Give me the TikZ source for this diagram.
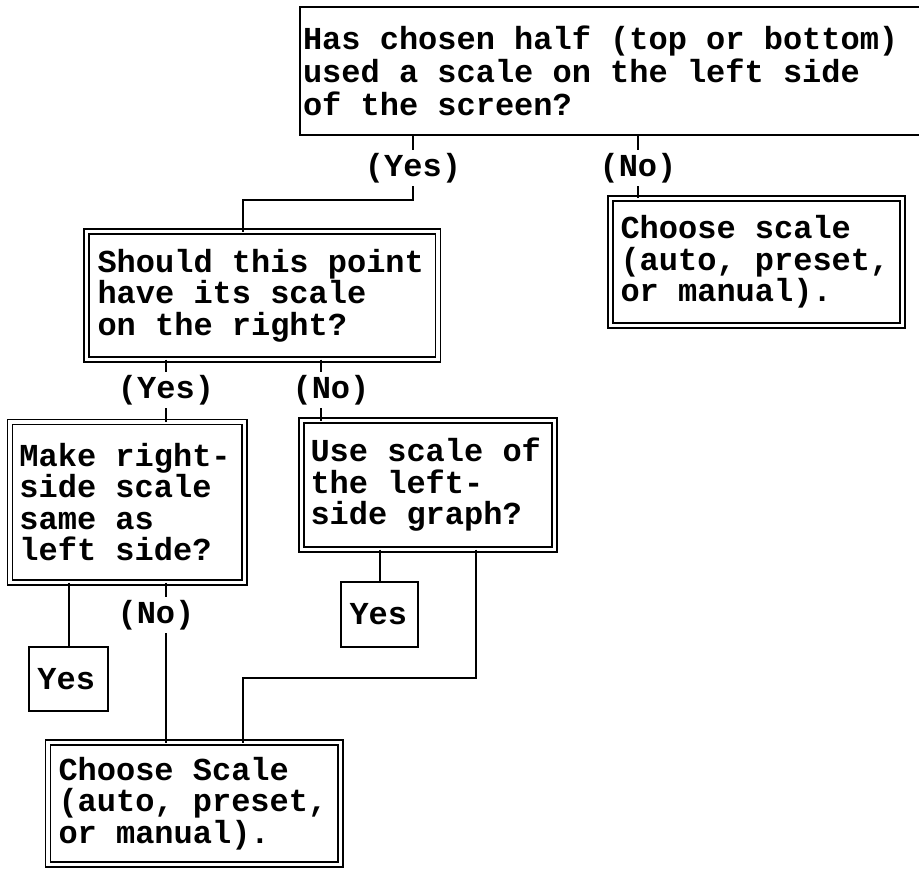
\documentclass[tikz,border=0pt]{standalone}
\usepackage{fontspec}
\newfontfamily\typewriter{Liberation Mono}
% fixed-pitch spacing: every blank is one character cell wide
\newcommand\cellspacing{\spaceskip=0.6em\relax\xspaceskip=0.6em\relax}
\begin{document}
\begin{tikzpicture}[x=1pt,y=-1pt,
  txt/.style={font=\typewriter\bfseries\fontsize{32}{31.5}\selectfont,
    execute at begin node=\cellspacing},
  box/.style={txt, align=left, draw, line width=2pt, anchor=north west,
    inner ysep=0pt, outer sep=0pt},
  dbox/.style={box, double, line width=1.8pt, double distance=3.2pt},
  lbl/.style={txt, fill=white, inner xsep=1pt, inner ysep=3pt},
  link/.style={line width=2pt}]
\path[use as bounding box, clip] (0,0) rectangle (919,872);

% decision and action boxes
\node[box, font=\typewriter\bfseries\fontsize{32}{33}\selectfont,
  text width=619pt, inner xsep=3pt, minimum height=128pt] (top) at (300,7)
  {Has chosen half (top or bottom)\\used a scale on the left side\\of the screen?};
\node[dbox, text width=329.5pt, inner xsep=11pt, minimum height=128pt] (q2) at (86.5,231.5)
  {Should this point\\have its scale\\on the right?};
\node[dbox, text width=272pt, inner xsep=10pt, minimum height=127pt] (cr) at (610.5,198.5)
  {Choose scale\\(auto, preset,\\or manual).};
\node[dbox, text width=215.5pt, inner xsep=9.5pt, minimum height=160.5pt] (mk) at (10,422)
  {Make right-\\side scale\\same as\\left side?};
\node[dbox, text width=235pt, inner xsep=9pt, minimum height=129pt] (us) at (301.5,420.5)
  {Use scale of\\the left-\\side graph?};
\node[dbox, text width=271.5pt, inner xsep=10.5pt, minimum height=122pt] (bt) at (48,742.5)
  {Choose Scale\\(auto, preset,\\or manual).};
\node[box, text width=62pt, inner xsep=8.5pt, minimum height=64pt] (yl) at (29,647) {Yes};
\node[box, text width=60pt, inner xsep=8.5pt, minimum height=65pt] (yr) at (341,582) {Yes};

% where the connectors run
\coordinate (pYesA) at (413,168);
\coordinate (pNoA) at (638,168);
\coordinate (pYesB) at (166,390);
\coordinate (pNoB) at (321,390);
\coordinate (pNoC) at (166,615);
\coordinate (jTop) at (243,200);
\coordinate (jUse) at (476,678);
\coordinate (jBot) at (243,678);

% connectors
\draw[link] (top.south -| pYesA) -- (pYesA |- jTop) -- (jTop) -- (jTop |- q2.north);
\draw[link] (top.south -| pNoA) -- (pNoA |- cr.north);
\draw[link] (q2.south -| pYesB) -- (pYesB |- mk.north);
\draw[link] (q2.south -| pNoB) -- (pNoB |- us.north);
\draw[link] (yl.north |- mk.south) -- (yl.north);
\draw[link] (mk.south -| pNoC) -- (pNoC |- bt.north);
\draw[link] (yr.north |- us.south) -- (yr.north);
\draw[link] (jUse |- us.south) -- (jUse) -- (jBot) -- (jBot |- bt.north);

% branch labels
\node[lbl] (lYesA) at (pYesA) {(Yes)};
\node[lbl] (lNoA) at (pNoA) {(No)};
\node[lbl] (lYesB) at (pYesB) {(Yes)};
\node[lbl] (lNoB) at (331,390) {(No)};
\node[lbl] (lNoC) at (156,615) {(No)};
\end{tikzpicture}
\end{document}
